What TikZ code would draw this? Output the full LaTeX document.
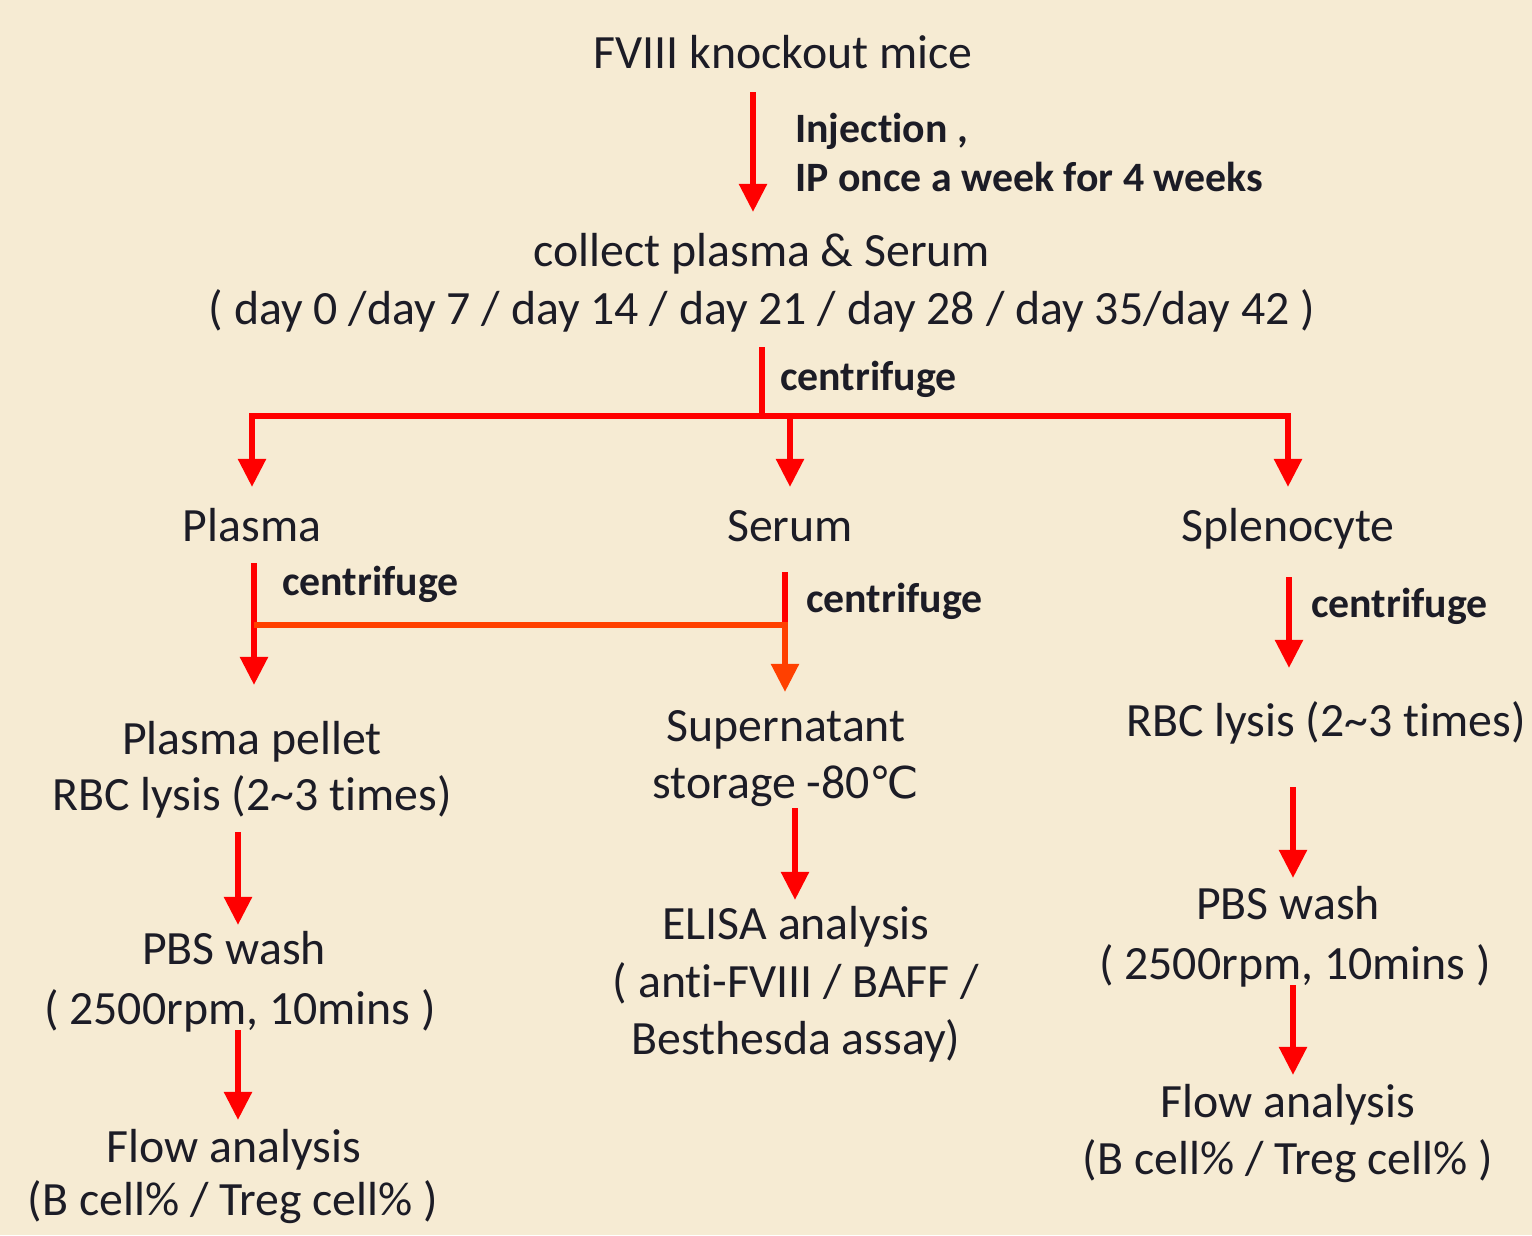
\documentclass[tikz,border=0pt]{standalone}
\usepackage{fontspec}
\setmainfont{Carlito}[Ligatures={NoCommon,NoContextual},RawFeature={-liga;-clig;-dlig}]
\newfontfamily\symfont{DejaVu Sans}
\usetikzlibrary{arrows.meta}
\definecolor{bg}{RGB}{246,235,211}
\definecolor{ink}{RGB}{28,28,38}
\definecolor{arrred}{RGB}{255,0,0}
\definecolor{arrorange}{RGB}{255,64,0}
\begin{document}
\begin{tikzpicture}[x=0.02cm,y=-0.02cm,
  txt/.style={anchor=base, inner sep=0pt, text=ink, font=\fontsize{27.2}{33}\selectfont},
  lbl/.style={anchor=base west, inner sep=0pt, text=ink, font=\bfseries\fontsize{23.8}{28}\selectfont},
  link/.style={draw=arrred, line width=3.4pt},
  flow/.style={link, -{Triangle[width=15.3pt,length=16pt]}},
  oflow/.style={flow, draw=arrorange, fill=arrorange},
  olink/.style={link, draw=arrorange}]
\fill[bg] (0,0) rectangle (1532,1235);
\useasboundingbox (0,0) rectangle (1532,1235);

% texts
\node[txt] (mice) at (783,68) {FVIII knockout mice};
\node[lbl] (inj1) at (795,142) {Injection ,};
\node[lbl] (inj2) at (795,191) {IP once a week for 4 weeks};
\node[txt] (collect) at (762,266) {collect plasma \& Serum};
\node[txt] (days) at (762,324) {( day 0 /day 7 / day 14 / day 21 / day 28 / day 35/day 42 )};
\node[lbl] (cf0) at (780,390) {centrifuge};

\node[txt] (plasma) at (252,541) {Plasma};
\node[txt] (serum) at (790,541) {Serum};
\node[txt] (spleno) at (1288,541) {Splenocyte};

\node[lbl] (cf1) at (282,595) {centrifuge};
\node[lbl] (cf2) at (806,612) {centrifuge};
\node[lbl] (cf3) at (1311,617) {centrifuge};

\node[txt] (pellet) at (252,754) {Plasma pellet};
\node[txt] (rbcl) at (252,810) {RBC lysis (2\textasciitilde3 times)};
\node[txt] (super) at (786,741) {Supernatant};
\node[txt] (store) at (786,798) {storage -80{\symfont\fontsize{25}{30}\selectfont ℃}};
\node[txt] (rbcr) at (1326,736) {RBC lysis (2\textasciitilde3 times)};

\node[txt] (pbsl) at (234,964) {PBS wash};
\node[txt] (rpml) at (240,1024) {( 2500rpm, 10mins )};
\node[txt] (flowl) at (234,1162) {Flow analysis};
\node[txt] (celll) at (233,1215) {(B cell\% / Treg cell\% )};

\node[txt] (elisa) at (796,939) {ELISA analysis};
\node[txt] (anti) at (796,997) {( anti-FVIII / BAFF /};
\node[txt] (beth) at (796,1054) {Besthesda assay)};

\node[txt] (pbsr) at (1288,919) {PBS wash};
\node[txt] (rpmr) at (1295,979) {( 2500rpm, 10mins )};
\node[txt] (flowr) at (1288,1117) {Flow analysis};
\node[txt] (cellr) at (1288,1174) {(B cell\% / Treg cell\% )};

% connector points
\coordinate (a1s) at (753,92);   \coordinate (a1e) at (753,212);
\coordinate (c0s) at (762,347);  \coordinate (c0j) at (762,416);
\coordinate (bl) at (252,416);   \coordinate (bm) at (790,416);  \coordinate (br) at (1288,416);
\coordinate (blt) at (252,487);  \coordinate (bmt) at (790,487); \coordinate (brt) at (1288,487);
\coordinate (p1s) at (254,563);  \coordinate (p1j) at (254,625); \coordinate (p1e) at (254,685);
\coordinate (s1s) at (785,572);  \coordinate (s1j) at (785,625); \coordinate (s1e) at (785,692);
\coordinate (r1s) at (1289,577); \coordinate (r1e) at (1289,668);
\coordinate (l2s) at (238,832);  \coordinate (l2e) at (238,925);
\coordinate (l3s) at (238,1030); \coordinate (l3e) at (238,1120);
\coordinate (m2s) at (795,808);  \coordinate (m2e) at (795,900);
\coordinate (r2s) at (1293,787); \coordinate (r2e) at (1293,878);
\coordinate (r3s) at (1293,985); \coordinate (r3e) at (1293,1075);

% connectors
\draw[flow] (a1s) -- (a1e);
\draw[link] (c0s) -- (c0j);
\draw[link] (bl) -- (br);
\draw[flow] ([yshift=1.7pt]bl) -- (blt);
\draw[flow] (bm) -- (bmt);
\draw[flow] ([yshift=1.7pt]br) -- (brt);

\draw[flow] (p1s) -- (p1e);
\draw[link] (s1s) -- (s1j);
\draw[oflow] (s1j) -- (s1e);
\draw[olink] (p1j) -- ([xshift=1.7pt]s1j);
\draw[flow] (r1s) -- (r1e);

\draw[flow] (l2s) -- (l2e);
\draw[flow] (l3s) -- (l3e);
\draw[flow] (m2s) -- (m2e);
\draw[flow] (r2s) -- (r2e);
\draw[flow] (r3s) -- (r3e);
\end{tikzpicture}
\end{document}
